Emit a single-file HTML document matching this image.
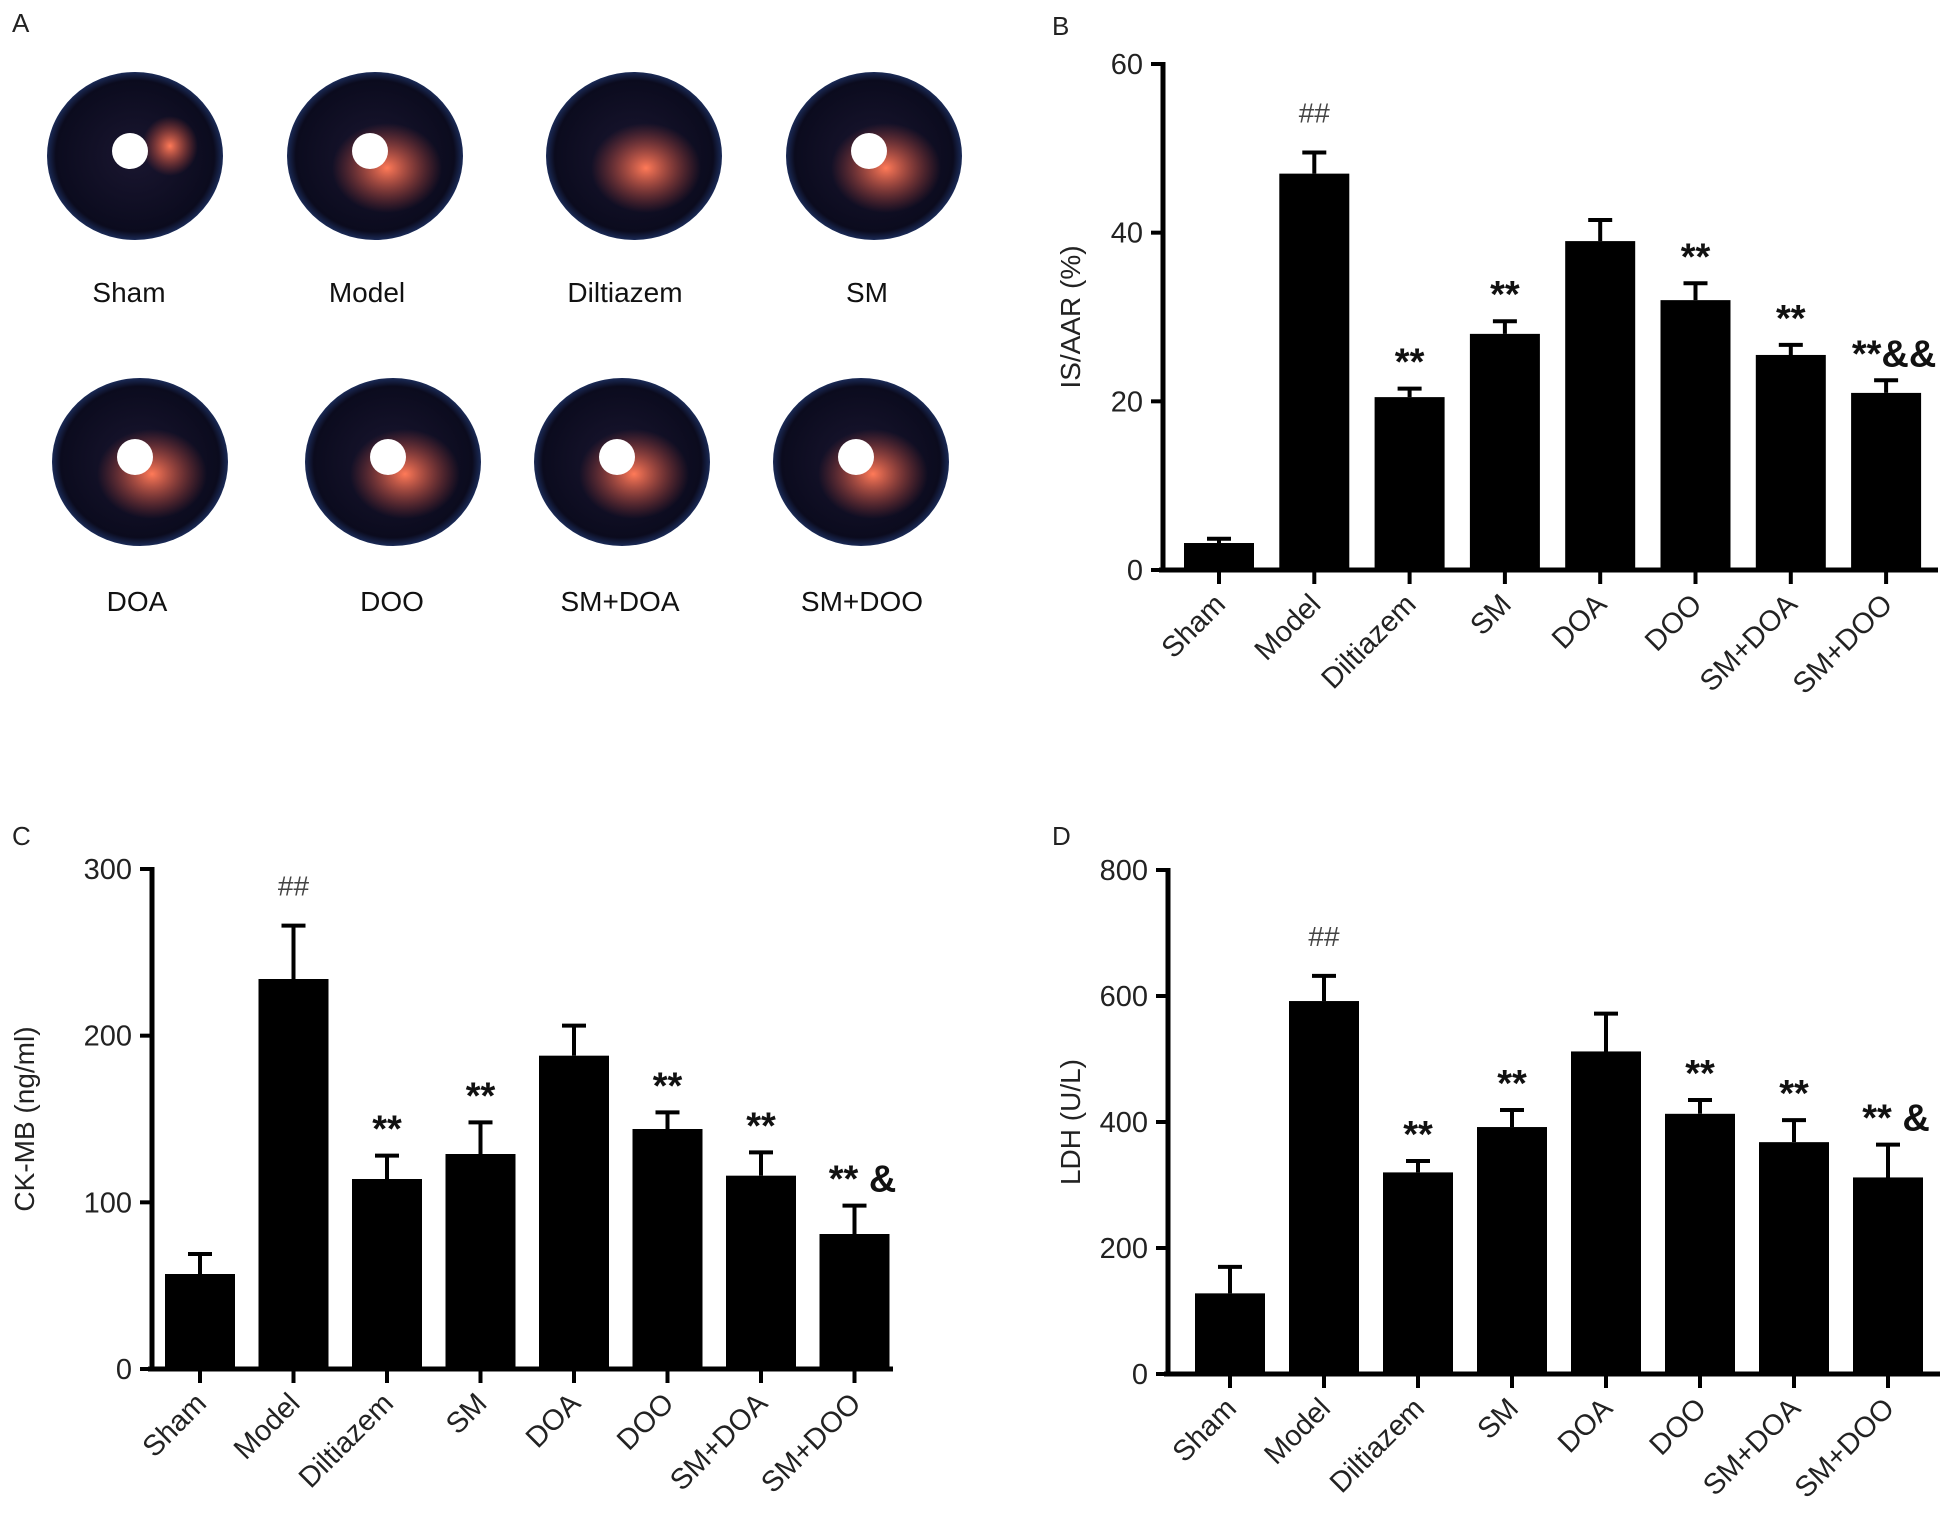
<!DOCTYPE html>
<html><head><meta charset="utf-8">
<style>
html,body{margin:0;padding:0;background:#fff;}
svg{display:block;font-family:"Liberation Sans",Arial,sans-serif;}
</style></head>
<body>
<svg id="fig" width="1951" height="1523" viewBox="0 0 1951 1523">
<defs>
<radialGradient id="hg" cx="50%" cy="50%" r="55%">
<stop offset="0%" stop-color="#1a1630"/><stop offset="82%" stop-color="#0b0b1e"/><stop offset="100%" stop-color="#2a4a90"/>
</radialGradient>
<radialGradient id="inf" cx="50%" cy="50%" r="50%">
<stop offset="0%" stop-color="#ff7a58"/><stop offset="100%" stop-color="#d04838" stop-opacity="0"/>
</radialGradient>
</defs>
<g id="panelA"></g>
<g id="chartB"></g>
<g id="chartC"></g>
<g id="chartD"></g>
</svg>
<script>
const categories = ["Sham","Model","Diltiazem","SM","DOA","DOO","SM+DOA","SM+DOO"];
const valuesB = [3.2,47,20.5,28,39,32,25.5,21];
const errorsB = [0.5,2.5,1,1.5,2.5,2,1.2,1.5];
const annotB = ["","##","**","**","","**","**","**&&"];
const ticksB = [0,20,40,60];
const valuesC = [57,234,114,129,188,144,116,81];
const errorsC = [12,32,14,19,18,10,14,17];
const annotC = ["","##","**","**","","**","**","** &"];
const ticksC = [0,100,200,300];
const valuesD = [128,592,320,392,512,413,368,312];
const errorsD = [42,40,18,27,60,22,35,52];
const annotD = ["","##","**","**","","**","**","** &"];
const ticksD = [0,200,400,600,800];
const heartLabels = ["Sham","Model","Diltiazem","SM","DOA","DOO","SM+DOA","SM+DOO"];

const NS="http://www.w3.org/2000/svg";
function mk(tag,attrs,parent){const e=document.createElementNS(NS,tag);for(const k in attrs)e.setAttribute(k,attrs[k]);parent.appendChild(e);return e;}

const pa=document.getElementById('panelA');
const pl=mk('text',{x:12,y:32,'font-size':26,fill:'#222'},pa);pl.textContent='A';


const hx=[135,375,634,874,140,393,622,861];
const hy=[156,156,156,156,462,462,462,462];
const lx=[129,367,625,867,137,392,620,862];
const ly=[302,302,302,302,611,611,611,611];
heartLabels.forEach((lab,i)=>{
  const g=mk('g',{},pa);
  
  
  mk('ellipse',{cx:hx[i],cy:hy[i],rx:88,ry:84,fill:'url(#hg)'},g);
  if(i!==0) mk('ellipse',{cx:hx[i]+12,cy:hy[i]+12,rx:55,ry:45,fill:'url(#inf)'},g);
  else mk('ellipse',{cx:hx[i]+35,cy:hy[i]-10,rx:28,ry:30,fill:'url(#inf)'},g);
  if(i!==2) mk('ellipse',{cx:hx[i]-5,cy:hy[i]-5,rx:18,ry:18,fill:'#fff'},g);
  const t=mk('text',{x:lx[i],y:ly[i],'font-size':28,'text-anchor':'middle',fill:'#111'},pa);
  t.textContent=lab;
  
  
});

function chart(gid,letter,lpos,cfg,values,errors,annots,ticks){
  const g=document.getElementById(gid);
  const L=mk('text',{x:lpos[0],y:lpos[1],'font-size':26,fill:'#222'},g);L.textContent=letter;
  
  
  const ymax=ticks[ticks.length-1];
  const y=v=>cfg.y0-(v/ymax)*(cfg.y0-cfg.yTop);
  const x=i=>cfg.x0c+i*cfg.step;
  const bw=cfg.bw;
  values.forEach((v,i)=>{
    const top=y(v), et=y(v+errors[i]);
    const b=mk('rect',{x:x(i)-bw/2,y:top,width:bw,height:cfg.y0-top,fill:'#000'},g);
    
    
    const e=mk('path',{d:`M${x(i)},${top}V${et}M${x(i)-12},${et}H${x(i)+12}`,stroke:'#000','stroke-width':4,fill:'none'},g);
    
    
    if(annots[i]){
      const isHash=annots[i]==='##';
      const a=mk('text',{x:x(i)+(annots[i].length>2?8:0),y:et-(isHash?30:14),'font-size':isHash?28:38,'font-weight':isHash?'normal':'bold','text-anchor':'middle',fill:isHash?'#444':'#111'},g);
      a.textContent=annots[i];
      
      
    }
    const tk=mk('line',{x1:x(i),x2:x(i),y1:cfg.y0,y2:cfg.y0+14,stroke:'#000','stroke-width':4},g);
    
    
    const tl=mk('text',{x:x(i)+8,y:cfg.y0+36,'font-size':29,'text-anchor':'end',fill:'#222',transform:`rotate(-45 ${x(i)+8} ${cfg.y0+36})`},g);
    tl.textContent=categories[i];
    
    
  });
  const ya=mk('line',{x1:cfg.ax,x2:cfg.ax,y1:cfg.yTop-2,y2:cfg.y0+2,stroke:'#000','stroke-width':5},g);
  
  
  const xa=mk('line',{x1:cfg.ax-4,x2:cfg.xEnd,y1:cfg.y0,y2:cfg.y0,stroke:'#000','stroke-width':5},g);
  
  
  ticks.forEach(t=>{
    const l=mk('line',{x1:cfg.ax-12,x2:cfg.ax,y1:y(t),y2:y(t),stroke:'#000','stroke-width':4},g);
    
    
    const tt=mk('text',{x:cfg.ax-20,y:y(t)+10,'font-size':29,'text-anchor':'end',fill:'#222'},g);
    tt.textContent=t;
    
    
  });
  const yt=mk('text',{x:cfg.titleX,y:(cfg.y0+cfg.yTop)/2,'font-size':28,'text-anchor':'middle',fill:'#222',transform:`rotate(-90 ${cfg.titleX} ${(cfg.y0+cfg.yTop)/2})`},g);
  yt.textContent=cfg.title;
  
  
}
chart('chartB','B',[1052,35],{ax:1163,y0:570,yTop:64,x0c:1219,step:95.3,bw:70,xEnd:1938,titleX:1080,title:'IS/AAR (%)'},valuesB,errorsB,annotB,ticksB);
chart('chartC','C',[12,845],{ax:152,y0:1369,yTop:869,x0c:200,step:93.5,bw:70,xEnd:893,titleX:34,title:'CK-MB (ng/ml)'},valuesC,errorsC,annotC,ticksC);
chart('chartD','D',[1052,845],{ax:1168,y0:1374,yTop:870,x0c:1230,step:94,bw:70,xEnd:1940,titleX:1080,title:'LDH (U/L)'},valuesD,errorsD,annotD,ticksD);
</script>
</body></html>
